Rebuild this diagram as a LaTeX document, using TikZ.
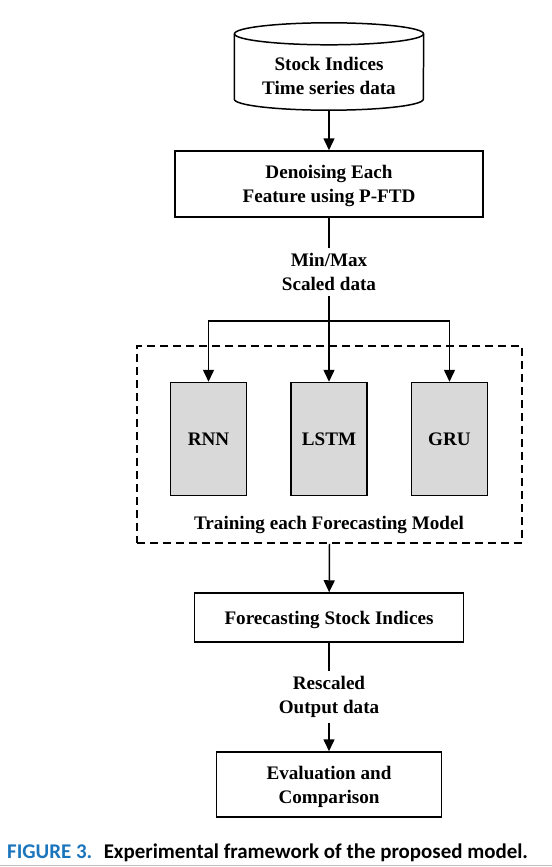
\documentclass[tikz,border=0pt]{standalone}
\usepackage{fontspec}
\setmainfont{Liberation Serif}
\newfontfamily\capfont{Carlito}
\usepackage{xcolor}
\usetikzlibrary{positioning, arrows.meta}

\definecolor{modelgray}{HTML}{D9D9D9}
\definecolor{capblue}{HTML}{1B75BC}

\tikzset{
  block/.style={draw, line width=1.5pt, rectangle, align=center, text depth=0bp, font=\bfseries\fontsize{19.2}{24}\selectfont},
  modelbox/.style={block, fill=modelgray, minimum width=76bp, minimum height=113bp},
  flowlabel/.style={align=center, inner sep=5bp, font=\bfseries\fontsize{19.2}{24}\selectfont},
  link/.style={line width=1.5pt},
}

\begin{document}
\begin{tikzpicture}[x=1bp, y=-1bp, >={Triangle[width=11bp,length=12bp]}]
                \useasboundingbox (0,0) rectangle (552,867);
                \node [align=center, text height=56bp, text depth=0bp, minimum width=189bp, minimum height=87bp,
                       font=\bfseries\fontsize{19.2}{24}\selectfont] (stock) at (329,66.5) {Stock Indices\\Time series data};
                % database outline round the stock node
                \draw [link] ([yshift=-11bp]stock.north) ellipse [x radius=94.5bp, y radius=11bp];
                \draw [link] ([yshift=-11bp]stock.north west) -- ([yshift=11bp]stock.south west)
                      arc [start angle=180, end angle=360, x radius=94.5bp, y radius=11bp] -- ([yshift=-11bp]stock.north east);
                \node [block, minimum width=308bp, minimum height=66bp] (denoise) at (329,184) {Denoising Each\\Feature using P-FTD};
                \node [flowlabel] (scaled) at (329,272) {Min/Max\\Scaled data};
                \coordinate (split) at (329,321);
                \node [modelbox] (lstm) at (329,439) {LSTM};
                \node [modelbox, left=43bp of lstm] (rnn) {RNN};
                \node [modelbox, right=43bp of lstm] (gru) {GRU};
                \node [draw, line width=1.8pt, dash pattern=on 8bp off 5bp, minimum width=385bp, minimum height=197bp] (train) at (329.5,444.5) {};
                \node [font=\bfseries\fontsize{19.2}{24}\selectfont] (trainlbl) at (329,525) {Training each Forecasting Model};
                \node [block, minimum width=269bp, minimum height=49bp] (forecast) at (329,617.5) {Forecasting Stock Indices};
                \node [flowlabel] (rescaled) at (329,697) {Rescaled\\Output data};
                \node [block, minimum width=225bp, minimum height=65bp] (eval) at (329,784.5) {Evaluation and\\Comparison};
                \node [anchor=base west, inner sep=0pt, font=\capfont\bfseries\fontsize{21}{24}\selectfont] (caption) at (7,858)
                      {\textcolor{capblue}{FIGURE 3.}\hspace{0.55em}Experimental framework of the proposed model.};
                \draw [link, ->] (stock) -- (denoise);
                \draw [link] (denoise) -- (scaled);
                \draw [link] (scaled) -- (split);
                \draw [link, ->] (split) -| (rnn);
                \draw [link, ->] (split) -- (lstm);
                \draw [link, ->] (split) -| (gru);
                \draw [link, ->] (train.south) -- (forecast);
                \draw [link] (forecast) -- (rescaled);
                \draw [link, ->] (rescaled) -- (eval);
                \draw [black!25, line width=1pt] (0,865.5) -- (552,865.5);
            \end{tikzpicture}
\end{document}
